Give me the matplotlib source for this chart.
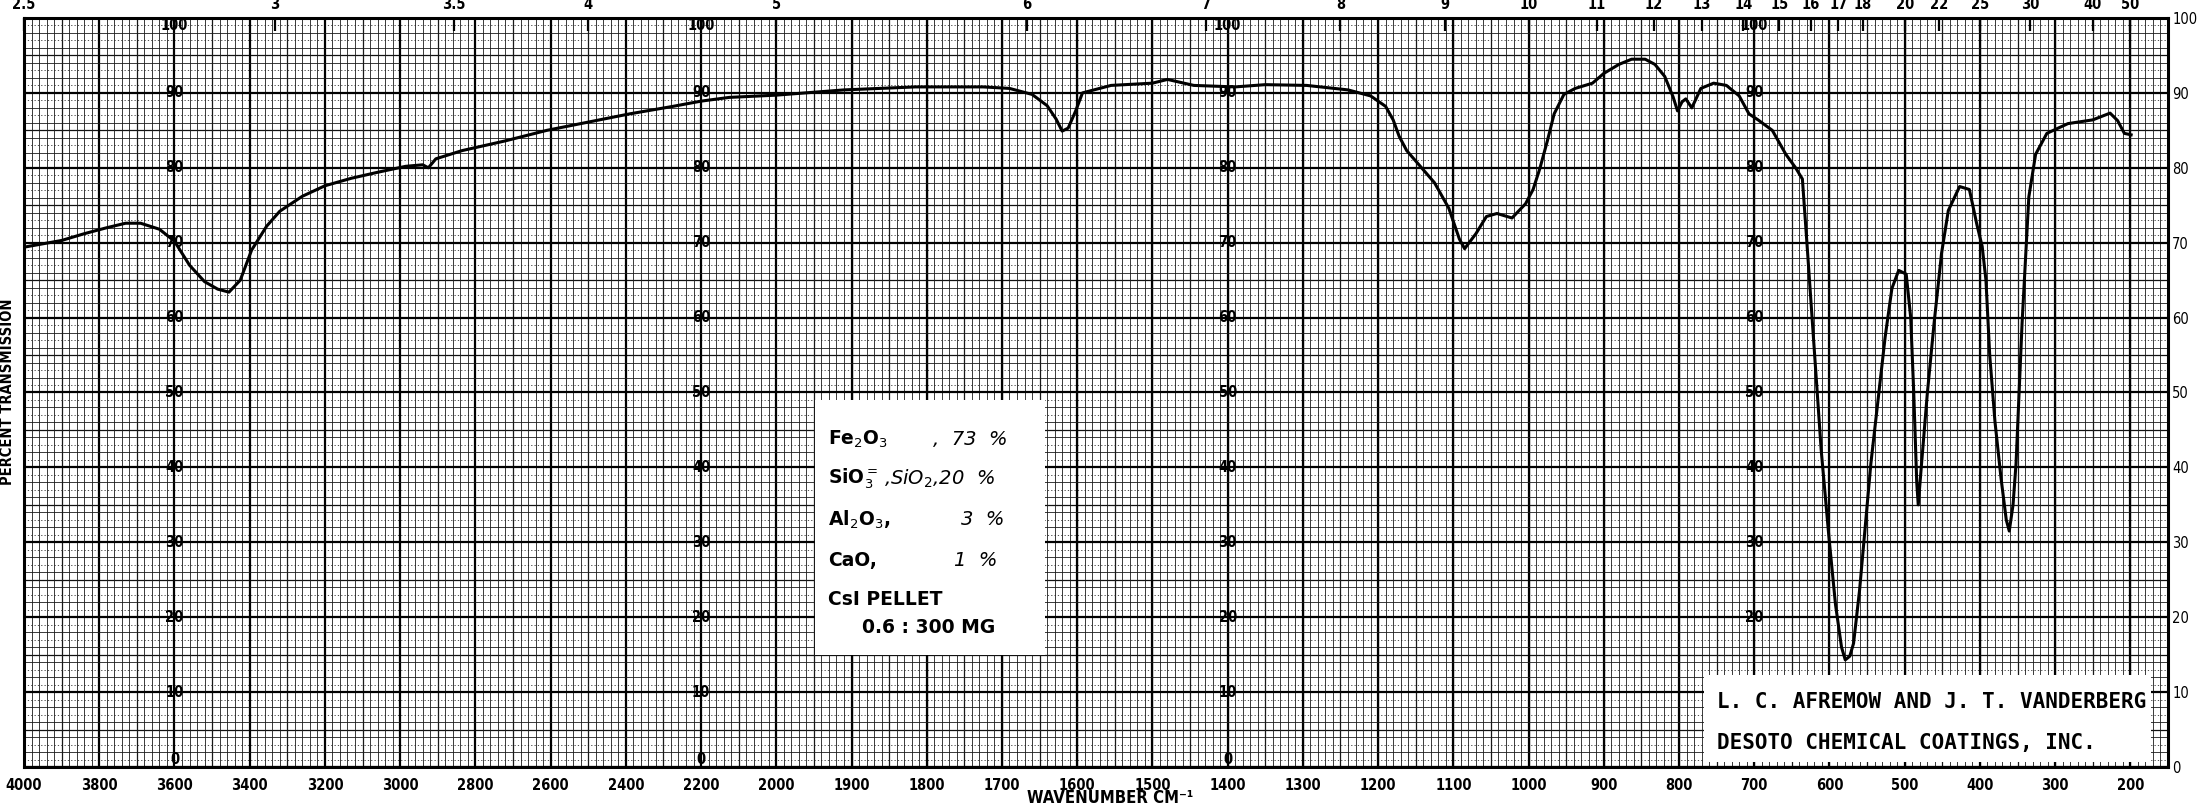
import numpy as np
import matplotlib
matplotlib.use("Agg")
import matplotlib.pyplot as plt
from matplotlib.patches import Rectangle

# ---------------- data ----------------
wavenumber = [4000, 3900, 3840, 3780, 3730, 3690, 3640, 3600, 3560, 3520, 3485, 3455,
              3425, 3395, 3355, 3320, 3260, 3200, 3130, 3060, 2985, 2940, 2925, 2905,
              2835, 2720, 2610, 2500, 2390, 2275, 2200, 2125, 2000, 1910, 1815, 1725,
              1690, 1660, 1640, 1628, 1620, 1612, 1602, 1593, 1555, 1500, 1480, 1445,
              1390, 1350, 1295, 1240, 1210, 1190, 1180, 1172, 1162, 1144, 1125, 1106,
              1092, 1085, 1070, 1056, 1042, 1022, 1004, 994, 985, 975, 966, 953, 938,
              915, 900, 880, 863, 845, 832, 819, 808, 802, 796, 791, 783, 771, 754, 737,
              720, 707, 695, 676, 658, 645, 636, 630, 620, 611, 601, 592, 584, 579, 573,
              568, 560, 545, 526, 517, 508, 498, 492, 488, 484, 482, 478, 470, 461, 451,
              442, 427, 414, 404, 397, 392, 387, 380, 372, 365, 361, 356, 352, 344, 335,
              326, 311, 283, 250, 227, 217, 208, 199]
transmission = [69.4, 70.3, 71.2, 72.0, 72.6, 72.6, 71.8, 70.2, 67.0, 64.8, 63.8, 63.4,
                65.0, 69.0, 72.2, 74.2, 76.2, 77.6, 78.6, 79.4, 80.2, 80.4, 80.0, 81.2,
                82.3, 83.6, 85.0, 86.1, 87.2, 88.2, 88.9, 89.4, 89.7, 90.4, 90.8, 90.8,
                90.6, 89.8, 88.3, 86.5, 84.9, 85.3, 87.6, 90.0, 91.0, 91.3, 91.8, 91.0,
                90.8, 91.1, 91.0, 90.4, 89.6, 88.2, 86.4, 84.2, 82.3, 80.2, 78.0, 74.6,
                70.5, 69.2, 71.2, 73.5, 73.9, 73.3, 75.2, 77.1, 79.9, 83.6, 87.2, 89.8, 90.6,
                91.3, 92.6, 93.8, 94.5, 94.5, 93.8, 92.2, 89.5, 87.6, 88.8, 89.2, 88.0, 90.6, 91.3, 91.0,
                89.6, 87.2, 86.4, 85.0, 81.8, 80.0, 78.5, 70.0, 55.5, 42.3, 31.0, 21.7, 16.0, 14.3, 14.8,
                16.5, 23.6, 40.5, 57.4, 63.9, 66.3, 65.8, 60.0, 50.0, 38.0, 35.0, 40.0, 49.8, 59.2, 68.6,
                74.3, 77.5, 77.1, 72.4, 69.5, 65.0, 55.0, 46.1, 38.6, 33.0, 31.5, 35.0, 40.5, 59.2, 76.1,
                81.8, 84.6, 85.9, 86.4, 87.3, 86.3, 84.6, 84.4]

bottom_ticks = [4000, 3800, 3600, 3400, 3200, 3000, 2800, 2600, 2400, 2200, 2000,
                1900, 1800, 1700, 1600, 1500, 1400, 1300, 1200, 1100, 1000, 900, 800,
                700, 600, 500, 400, 300, 200]
micron_values = [2.5, 3, 3.5, 4, 5, 6, 7, 8, 9, 10, 11, 12, 13, 14, 15, 16, 17, 18,
                 20, 22, 25, 30, 40, 50]
micron_labels = ["2.5", "3", "3.5", "4", "5", "6", "7", "8", "9", "10", "11", "12",
                 "13", "14", "15", "16", "17", "18", "20", "22", "25", "30", "40", "50"]
percent_ticks = [0, 10, 20, 30, 40, 50, 60, 70, 80, 90, 100]
label_columns = [3600, 2200, 1400, 700]

compound_names = ["Fe$_2$O$_3$", "SiO$_3^{=}$", "Al$_2$O$_3$,", "CaO,"]
compound_amounts = [",  73  %", ",SiO$_2$,20  %", "3  %", "1  %"]
sample_lines = ["CsI PELLET", "0.6 : 300 MG"]
credit_lines = ["L. C. AFREMOW AND J. T. VANDERBERG", "DESOTO CHEMICAL COATINGS, INC."]


# piecewise-linear chart-paper scale: 4000-2000 at half the scale of 2000-150
def fwd(w):
    w = np.asarray(w, dtype=float)
    return np.where(w >= 2000, w, 2000 - 2 * (2000 - w))


def inv(u):
    u = np.asarray(u, dtype=float)
    return np.where(u >= 2000, u, 2000 - (2000 - u) / 2)


W, H = 2203, 808
fig = plt.figure(figsize=(W / 100, H / 100), dpi=100)
L, R, T, B = 24, 2168, 18, 767
ax = fig.add_axes([L / W, (H - B) / H, (R - L) / W, (B - T) / H])
ax.set_xscale("function", functions=(fwd, inv))
ax.set_xlim(4000, 150)
ax.set_ylim(0, 100)

cond = dict(family="DejaVu Sans", stretch="condensed", fontweight="bold")

# chart-paper grid
minor_x = list(range(3980, 2000, -20)) + list(range(1990, 150, -10))
ax.set_xticks(bottom_ticks)
ax.set_xticklabels([str(t) for t in bottom_ticks], fontsize=10.5, **cond)
ax.set_xticks(minor_x, minor=True)
ax.set_yticks(percent_ticks)
ax.set_yticks(list(range(2, 100, 2)), minor=True)
ax.grid(which="major", color="black", lw=1.6, zorder=1)
ax.grid(which="minor", color="#1a1a1a", lw=0.6, zorder=1)
mid_x = [3900, 3700, 3500, 3300, 3100, 2900, 2700, 2500, 2300, 2100] + \
        list(range(1950, 150, -50))
ax.vlines(mid_x, 0, 100, colors="#111111", lw=0.9, zorder=1)
ax.hlines(list(range(5, 100, 10)), 4000, 150, colors="#111111", lw=0.9, zorder=1)
odd = [p for p in range(1, 100, 2) if p % 5 != 0]
ax.hlines(odd, 4000, 150, colors="#333333", lw=0.6, linestyles=(0, (1.5, 2.5)), zorder=1)

ax.tick_params(axis="x", which="both", length=0, pad=8)
ax.yaxis.tick_right()
ax.set_yticklabels([str(p) for p in percent_ticks], fontsize=10.5,
                   family="DejaVu Sans", stretch="condensed")
ax.tick_params(axis="y", which="both", length=0, pad=3)
for s in ax.spines.values():
    s.set_linewidth(2.2)

# percent labels on the chart-paper columns (700 column: 0 and 10 lie under the pasted label)
for col in label_columns:
    for p in percent_ticks:
        if col == 700 and p < 20:
            continue
        va = "center"
        if p == 100:
            va = "top"
        elif p == 0:
            va = "bottom"
        ax.text(col, p, str(p), ha="center", va=va, fontsize=10.5, zorder=3, **cond)

# spectrum
ax.plot(wavenumber, transmission, color="black", lw=2.2, zorder=6,
        solid_joinstyle="round")

# top micron axis
ax2 = ax.twiny()
ax2.set_xscale("function", functions=(fwd, inv))
ax2.set_xlim(4000, 150)
ax2.set_xticks([1e4 / m for m in micron_values])
ax2.set_xticklabels(micron_labels, fontsize=10.5, **cond)
ax2.tick_params(axis="x", direction="in", length=9, width=1.6, pad=4)
for s in ax2.spines.values():
    s.set_visible(False)

# pasted white labels
ax.add_patch(Rectangle((0.369, 0.149), 0.107, 0.341, transform=ax.transAxes,
                       facecolor="white", edgecolor="none", zorder=4))
ax.add_patch(Rectangle((0.7836, 0.007), 0.2084, 0.116, transform=ax.transAxes,
                       facecolor="white", edgecolor="none", zorder=4))

ys = [0.437, 0.385, 0.330, 0.276]
for name, y in zip(compound_names, ys):
    ax.text(0.375, y, name, transform=ax.transAxes, fontsize=13.5, fontweight="bold",
            ha="left", va="center", zorder=7)
for amt, y, x in zip(compound_amounts, ys, [0.424, 0.401, 0.437, 0.434]):
    ax.text(x, y, amt, transform=ax.transAxes, fontsize=14, style="italic",
            ha="left", va="center", zorder=7)
ax.text(0.375, 0.223, sample_lines[0], transform=ax.transAxes, fontsize=13.5,
        fontweight="bold", ha="left", va="center", zorder=7)
ax.text(0.391, 0.186, sample_lines[1], transform=ax.transAxes, fontsize=13.5,
        fontweight="bold", ha="left", va="center", zorder=7)

ax.text(0.7897, 0.087, credit_lines[0], transform=ax.transAxes, fontsize=15,
        family="DejaVu Sans Mono", fontweight="bold", ha="left", va="center", zorder=7)
ax.text(0.7897, 0.032, credit_lines[1], transform=ax.transAxes, fontsize=15,
        family="DejaVu Sans Mono", fontweight="bold", ha="left", va="center", zorder=7)

fig.text(8 / W, 1 - 392 / H, "PERCENT TRANSMISSION", rotation=90, ha="center",
         va="center", fontsize=10.5, **cond)
fig.text(1110 / W, 1 - 798 / H, "WAVENUMBER CM\u207b\u00b9", ha="center", va="center",
         fontsize=12, **cond)

fig.savefig("out.png", dpi=100, facecolor="white")
